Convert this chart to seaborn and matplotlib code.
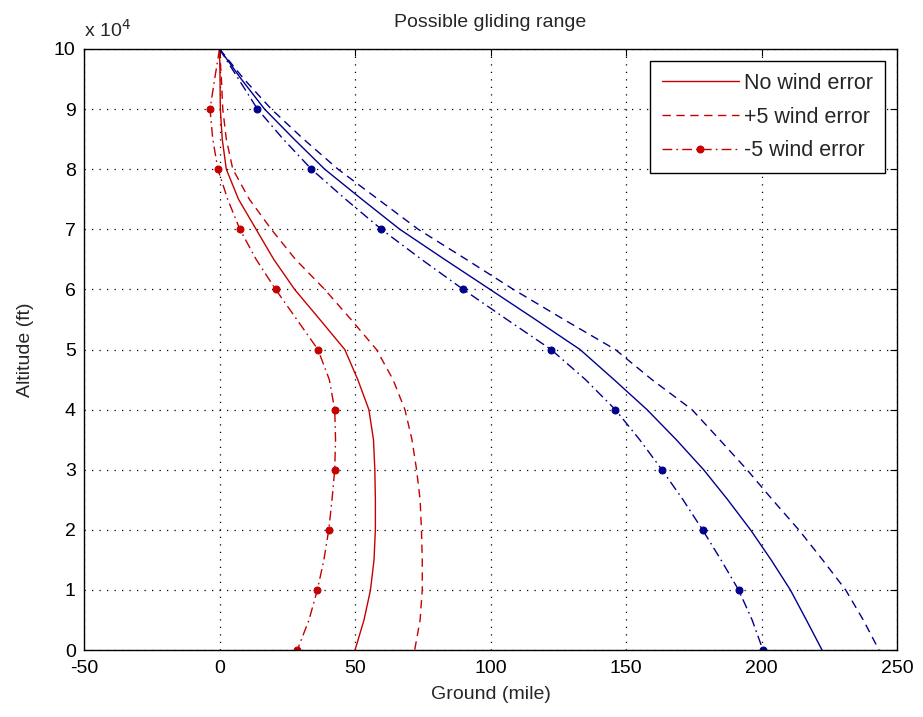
import matplotlib
matplotlib.use("Agg")
import matplotlib.pyplot as plt
import seaborn as sns
import pandas as pd
from matplotlib.ticker import FixedLocator, FuncFormatter

# Altitude (ft), from top to ground
altitude = [100000, 95000, 90000, 85000, 80000, 75000, 70000, 65000, 60000, 55000,
            50000, 45000, 40000, 35000, 30000, 25000, 20000, 15000, 10000, 5000, 0]

# Ground distance (mile) - red (left direction)
red_no_wind = [0, 0.2, 0.3, 1, 2.5, 7, 13.5, 20, 27.7, 37, 46.2, 51, 55.1, 56.8, 57.3,
               57.5, 57.5, 57, 55.7, 53.3, 50]
red_plus5 = [0, 0.7, 1.2, 2.5, 4.9, 11, 19.1, 28, 38.8, 48.5, 57.9, 64, 68.4, 71, 72.7,
             74, 74.5, 74.8, 74.8, 74, 72]
red_minus5 = [0, -1.8, -3.5, -2.5, -0.6, 3, 7.5, 13.5, 20.7, 28.5, 36.3, 40.5, 42.5, 42.8,
              42.5, 41.5, 40.3, 38.5, 36.1, 33, 28.7]

# Ground distance (mile) - blue (right direction)
blue_no_wind = [0, 8, 16.6, 27.5, 38.8, 52.5, 66.5, 83, 99.8, 116.5, 133, 145.5, 157.7,
                168.5, 178.6, 187.5, 195.9, 203.5, 210.6, 216.5, 222.3]
blue_plus5 = [0, 9, 19.1, 31, 43.7, 58.5, 73.3, 91, 108.4, 127, 146, 159.5, 174.3, 184.5,
              194.6, 204, 213.7, 222.5, 231, 237.5, 243.3]
blue_minus5 = [0, 7, 14, 23.5, 33.9, 46.5, 59.7, 74.5, 89.9, 106, 122.3, 135, 146, 155,
               163.2, 171, 178.2, 185, 191.5, 196.5, 200.5]

legend_labels = ["No wind error", "+5 wind error", "-5 wind error"]
x_ticks = [-50, 0, 50, 100, 150, 200, 250]
y_ticks = [0, 10000, 20000, 30000, 40000, 50000, 60000, 70000, 80000, 90000, 100000]

sns.set_style("white")
plt.rcParams["font.family"] = ["Liberation Sans", "DejaVu Sans"]

fig = plt.figure(figsize=(9.23, 7.17), dpi=100)
ax = fig.add_axes([0.091, 0.0934, 0.881, 0.8383])

RED = "#c40000"
BLUE = "#00008c"
dash = (0, (6, 4))
dashdot = (0, (7, 3, 1.2, 3))

def draw(xs, color, ls, label=None, marker=False):
    df = pd.DataFrame({"ground": xs, "alt": altitude})
    kw = {}
    if marker:
        kw = dict(marker="o", markersize=5, markevery=slice(2, None, 2),
                  markerfacecolor=color, markeredgecolor=color)
    sns.lineplot(data=df, x="ground", y="alt", sort=False, estimator=None, ax=ax,
                 color=color, linewidth=1.0, linestyle=ls, label=label, **kw)

draw(red_no_wind, RED, "-", legend_labels[0])
draw(red_plus5, RED, dash, legend_labels[1])
draw(red_minus5, RED, dashdot, legend_labels[2], marker=True)
draw(blue_no_wind, BLUE, "-")
draw(blue_plus5, BLUE, dash)
draw(blue_minus5, BLUE, dashdot, marker=True)

ax.set_xlim(-50, 250)
ax.set_ylim(0, 100000)
ax.xaxis.set_major_locator(FixedLocator(x_ticks))
ax.yaxis.set_major_locator(FixedLocator(y_ticks))
ax.yaxis.set_major_formatter(FuncFormatter(lambda v, p: f"{int(round(v / 10000))}"))
ax.xaxis.set_major_formatter(FuncFormatter(lambda v, p: f"{int(v)}"))

ax.grid(True, color="black", linestyle=(0, (1, 5)), linewidth=0.9)
ax.tick_params(axis="both", which="both", direction="in", top=True, right=True,
               length=5, width=0.8, labelsize=14, colors="black")
ax.tick_params(axis="x", pad=7)
ax.tick_params(axis="y", pad=6)
for s in ax.spines.values():
    s.set_visible(True)
    s.set_color("black")
    s.set_linewidth(1.0)

ax.set_xlabel("Ground (mile)", fontsize=14, labelpad=7)
ax.set_ylabel("Altitude (ft)", fontsize=14, labelpad=14)
ax.set_title("Possible gliding range", fontsize=14, pad=16)
ax.text(0.0, 1.014, "x 10$^4$", transform=ax.transAxes, fontsize=14, ha="left", va="bottom")

leg = ax.legend(loc="upper right", fontsize=15.5, handlelength=3.6, frameon=True,
                fancybox=False, edgecolor="black", framealpha=1, borderaxespad=0.55,
                labelspacing=0.6, handletextpad=0.25, borderpad=0.55)
leg.get_frame().set_linewidth(1.0)

fig.savefig("out.png", dpi=100, facecolor="white")
